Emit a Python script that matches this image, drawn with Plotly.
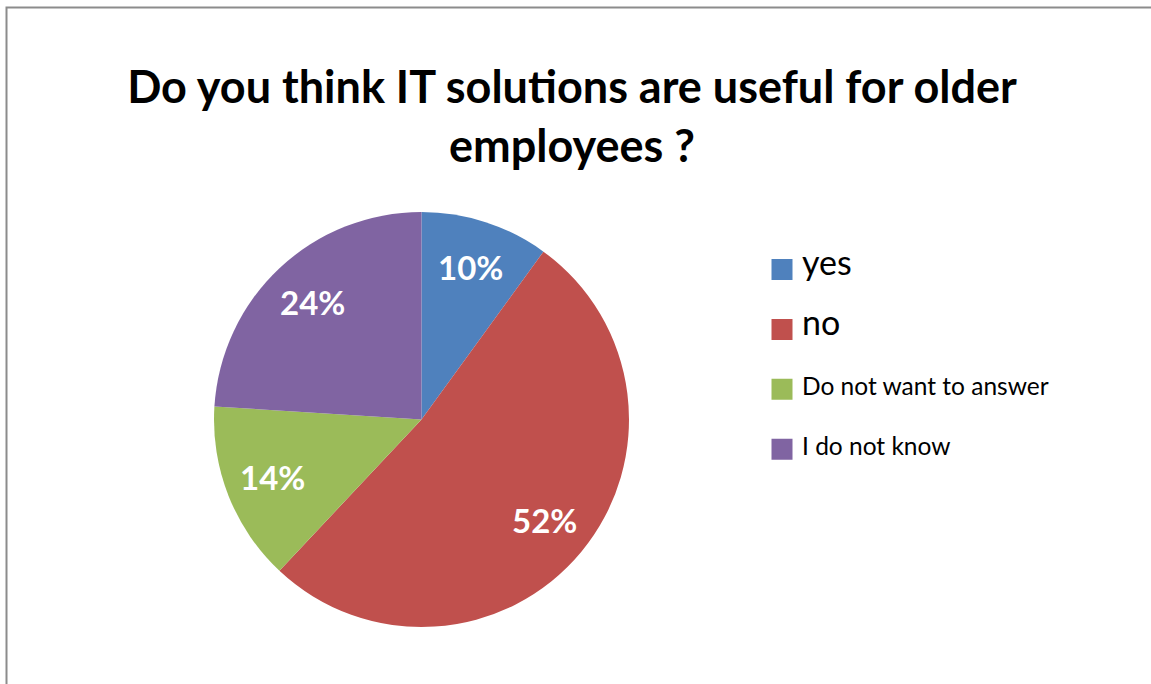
import math
import plotly.graph_objects as go

# ---- data ----
categories = ["yes", "no", "Do not want to answer", "I do not know"]
values = [10, 52, 14, 24]
colors = ["#4F81BD", "#C0504D", "#9BBB59", "#8064A2"]
legend_sizes = [34, 34, 24.5, 24.5]
title_text = "Do you think IT solutions are useful for older<br>employees ?"

W, H = 1151, 684
cx_px, cy_px, r_px = 421.5, 419.5, 207.5

dom_x = [(cx_px - r_px) / W, (cx_px + r_px) / W]
dom_y = [(H - cy_px - r_px) / H, (H - cy_px + r_px) / H]

legend_labels = [
    "<br><span style='font-size:%spx'>%s</span><br>" % (s, c)
    for c, s in zip(categories, legend_sizes)
]

fig = go.Figure(
    go.Pie(
        labels=legend_labels,
        values=values,
        marker=dict(colors=colors, line=dict(width=0)),
        sort=False,
        direction="clockwise",
        rotation=0,
        textinfo="none",
        hoverinfo="label+percent",
        domain=dict(x=dom_x, y=dom_y),
    )
)

# percentage labels placed along each slice's mid-angle
total = sum(values)
cum = 0
anns = []
for v in values:
    mid = (cum + v / 2) / total * 2 * math.pi
    cum += v
    rr = 0.77 * r_px
    px = cx_px + rr * math.sin(mid)
    py = cy_px - rr * math.cos(mid)
    anns.append(
        dict(
            x=px / W, y=1 - py / H, xref="paper", yref="paper",
            text="%d%%" % round(v / total * 100), showarrow=False,
            font=dict(family="Lato", size=33, color="white", weight="bold"),
            xanchor="center", yanchor="middle", yshift=1,
        )
    )

fig.update_layout(
    width=W, height=H,
    margin=dict(l=0, r=0, t=0, b=0),
    paper_bgcolor="white",
    plot_bgcolor="white",
    title=dict(
        text=title_text,
        x=572 / W, xanchor="center",
        y=1 - 103 / H, yanchor="top",
        font=dict(family="Lato", size=45, color="black", weight="bold"),
    ),
    annotations=anns,
    legend=dict(
        x=762 / W, xanchor="left",
        y=1 - 234.5 / H, yanchor="top",
        font=dict(family="Lato", size=14.6, color="black"),
        bgcolor="rgba(0,0,0,0)",
        tracegroupgap=0,
    ),
    shapes=[
        dict(type="rect", xref="paper", yref="paper",
             x0=6.5 / W, x1=1.05, y0=-0.05, y1=1 - 7.5 / H,
             line=dict(color="#8C8C8C", width=2), fillcolor="rgba(0,0,0,0)")
    ],
)

post = """
var gd = document.getElementsByClassName('plotly-graph-div')[0];
function fix(){
  var ps = gd.querySelectorAll('path.legendpie');
  ps.forEach(function(p){ p.setAttribute('transform','translate(20,0) scale(1.75)'); p.style.strokeWidth='0'; });
}
fix();
gd.on('plotly_afterplot', fix);
"""
fig.write_html("out.html", post_script=post)
